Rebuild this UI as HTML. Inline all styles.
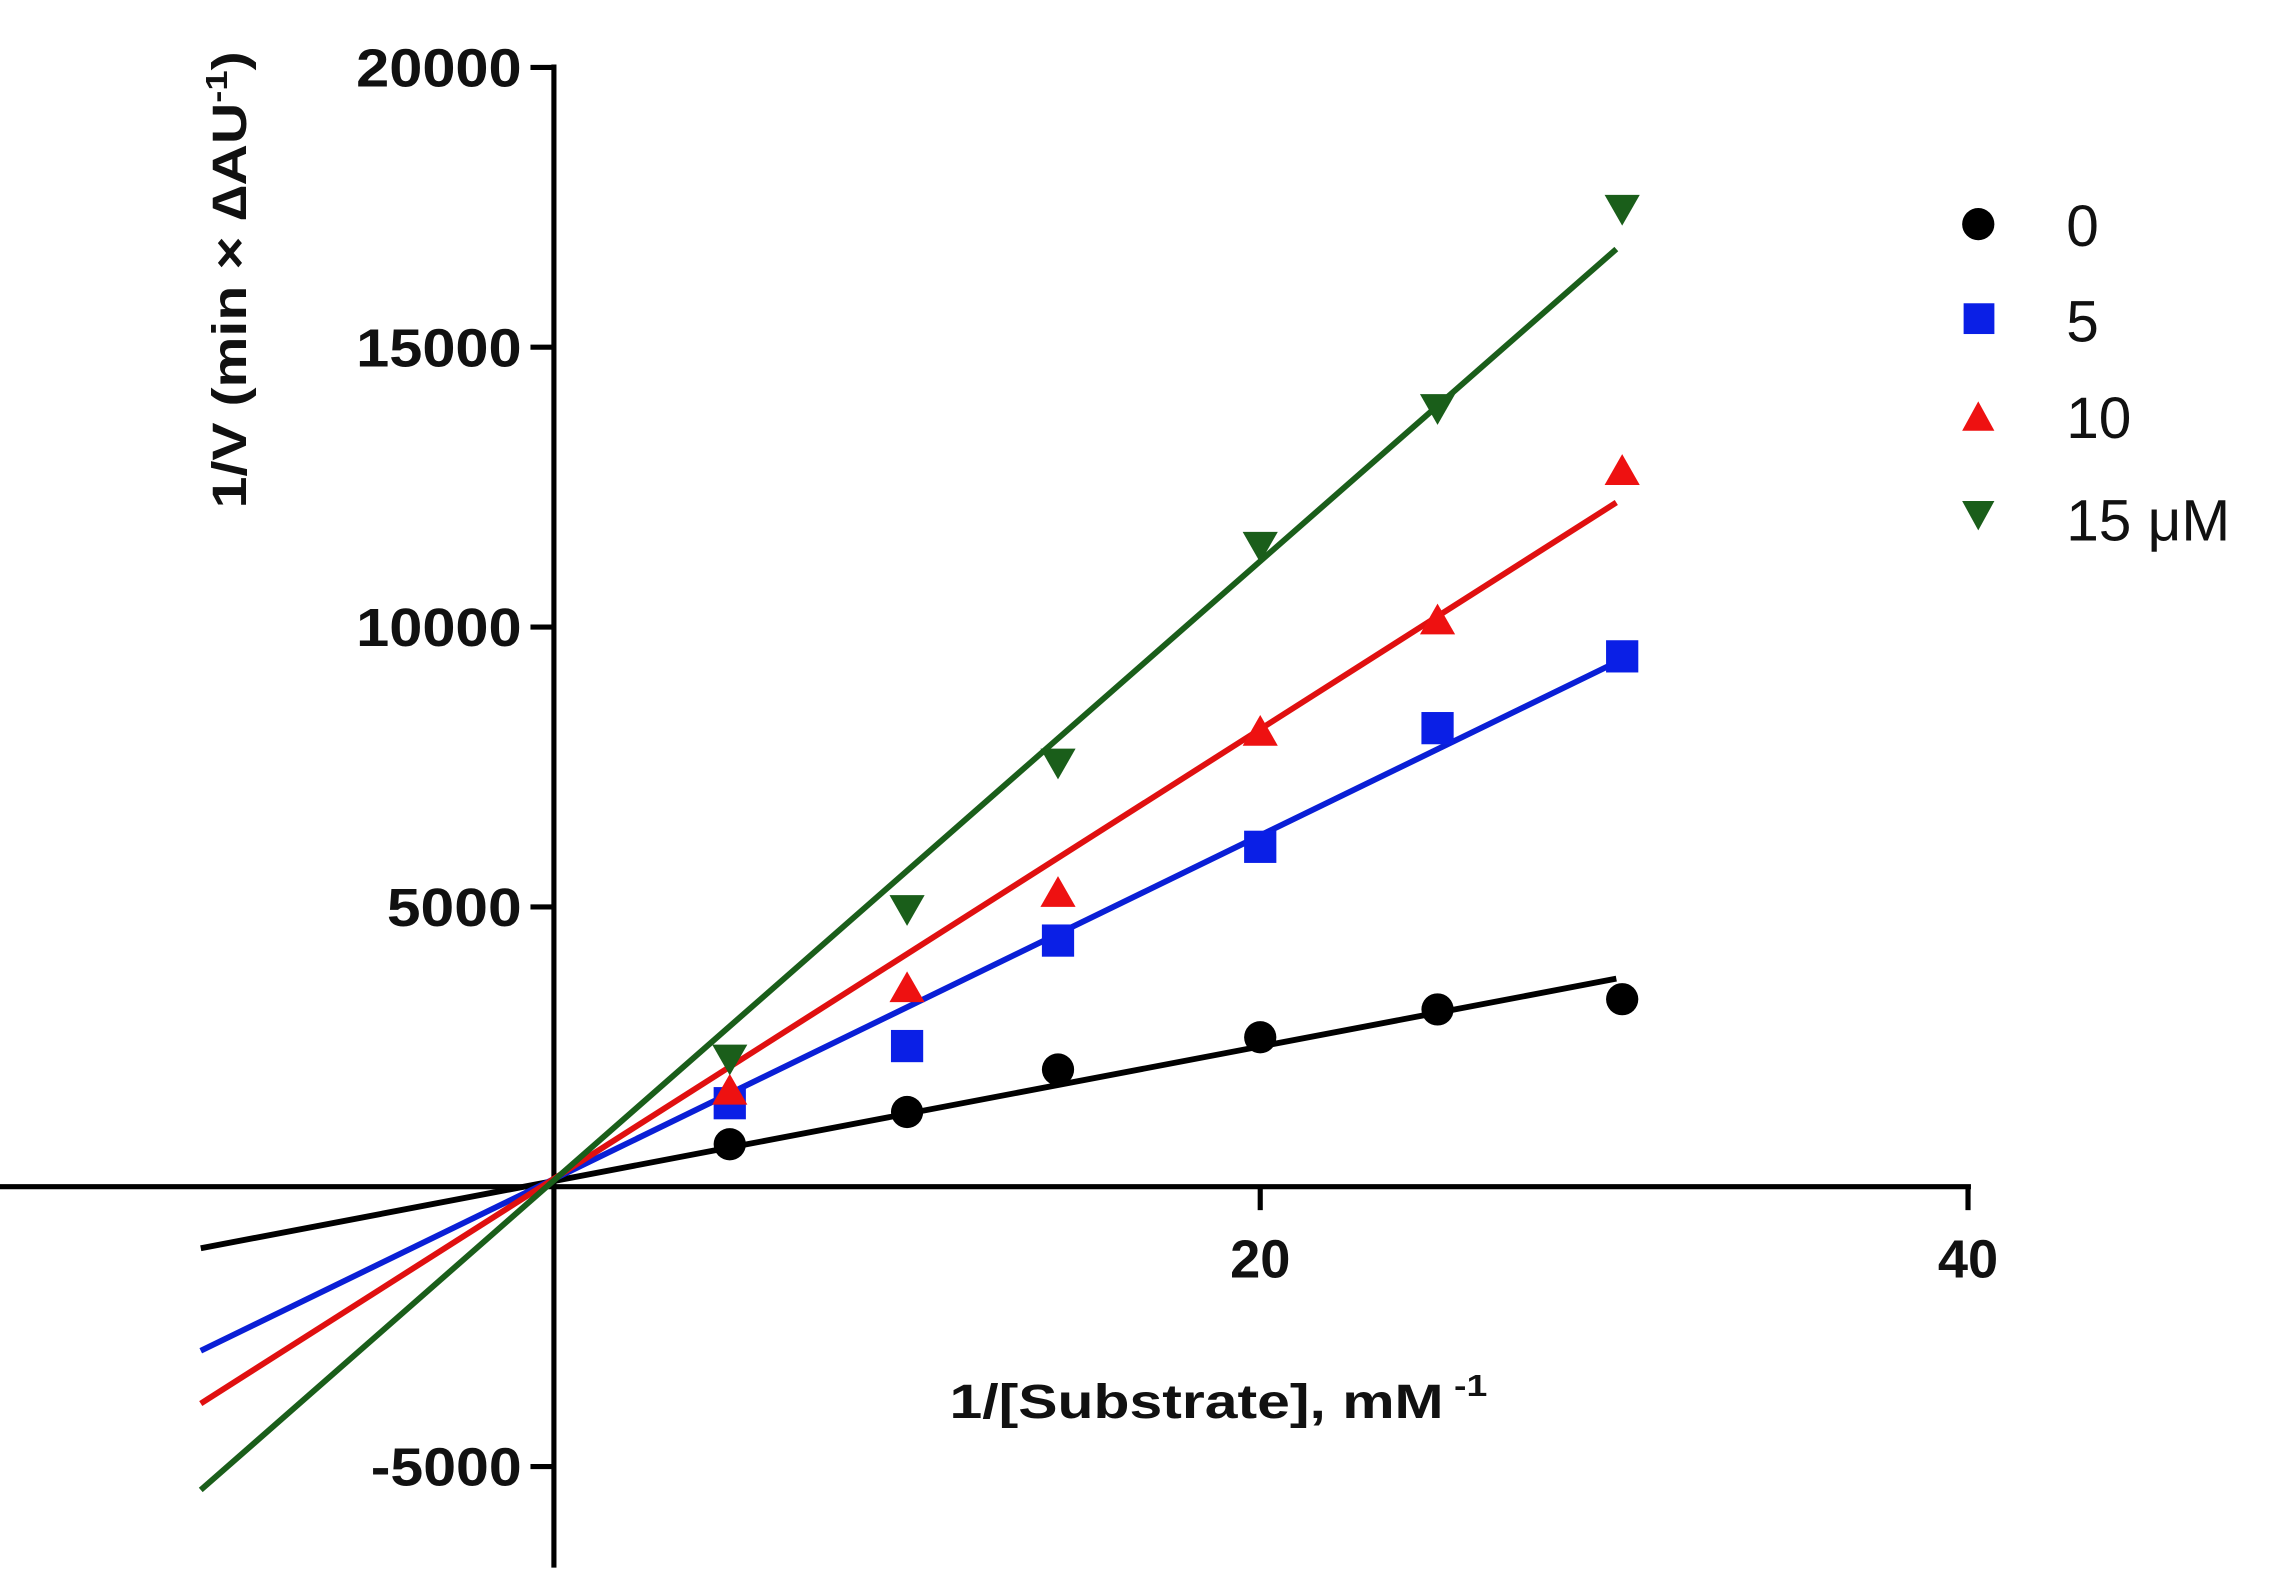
<!DOCTYPE html>
<html><head><meta charset="utf-8"><style>
html,body{margin:0;padding:0;background:#fff}
svg{display:block}
text{font-family:"Liberation Sans",Arial,sans-serif}
</style></head><body>
<svg width="2286" height="1594" viewBox="0 0 1560 1088" preserveAspectRatio="none" xmlns="http://www.w3.org/2000/svg">
<rect width="1560" height="1088" fill="#fff"/>
<g stroke="#000" stroke-width="3.5" fill="none">
<line x1="378" y1="44" x2="378" y2="1070"/>
<line x1="0" y1="810" x2="1345" y2="810"/>
<line x1="362" y1="46" x2="378" y2="46"/>
<line x1="362" y1="237" x2="378" y2="237"/>
<line x1="362" y1="428" x2="378" y2="428"/>
<line x1="362" y1="619" x2="378" y2="619"/>
<line x1="362" y1="1001" x2="378" y2="1001"/>
<line x1="860" y1="810" x2="860" y2="826"/>
<line x1="1343" y1="810" x2="1343" y2="826"/>
</g>
<g font-weight="bold" font-size="37" text-anchor="end" fill="#111">
<text x="356" y="59" textLength="113" lengthAdjust="spacingAndGlyphs">20000</text>
<text x="356" y="250" textLength="113" lengthAdjust="spacingAndGlyphs">15000</text>
<text x="356" y="441" textLength="113" lengthAdjust="spacingAndGlyphs">10000</text>
<text x="356" y="632" textLength="92" lengthAdjust="spacingAndGlyphs">5000</text>
<text x="356" y="1014" textLength="103" lengthAdjust="spacingAndGlyphs">-5000</text>
</g>
<g font-weight="bold" font-size="37" text-anchor="middle" fill="#111">
<text x="860" y="872">20</text>
<text x="1343" y="872">40</text>
</g>
<text x="168" y="191" font-size="33" font-weight="bold" text-anchor="middle" transform="rotate(-90 168 191)" fill="#111" textLength="312" lengthAdjust="spacingAndGlyphs">1/V (min × ∆AU<tspan font-size="21" dy="-13">-1</tspan><tspan dy="13">)</tspan></text>
<text x="648" y="968" font-size="33" font-weight="bold" fill="#111" textLength="367" lengthAdjust="spacingAndGlyphs">1/[Substrate], mM<tspan font-size="21" dy="-15"> -1</tspan></text>
<g stroke-width="4" fill="none">
<line x1="137" y1="852" x2="1103" y2="668" stroke="#000"/>
<line x1="137" y1="922" x2="1103" y2="452" stroke="#0a1fd6"/>
<line x1="137" y1="958" x2="1103" y2="343" stroke="#e01010"/>
<line x1="137" y1="1017" x2="1103" y2="170" stroke="#1a5e1a"/>
</g>
<g fill="#000">
<circle cx="498" cy="781" r="11"/><circle cx="619" cy="759" r="11"/><circle cx="722" cy="730" r="11"/>
<circle cx="860" cy="708" r="11"/><circle cx="981" cy="689" r="11"/><circle cx="1107" cy="682" r="11"/>
<circle cx="1350" cy="153" r="11"/>
</g>
<g fill="#0a1fe6">
<rect x="487" y="742" width="22" height="22"/><rect x="608" y="703" width="22" height="22"/><rect x="711" y="631" width="22" height="22"/>
<rect x="849" y="567" width="22" height="22"/><rect x="970" y="486" width="22" height="22"/><rect x="1096" y="437" width="22" height="22"/>
<rect x="1340" y="207" width="21" height="21"/>
</g>
<g fill="#ee1111">
<path d="M498 733 l12 21 h-24z"/><path d="M619 663 l12 21 h-24z"/><path d="M722 598 l12 21 h-24z"/>
<path d="M860 488 l12 21 h-24z"/><path d="M981 412 l12 21 h-24z"/><path d="M1107 310 l12 21 h-24z"/>
<path d="M1350 274 l11 20 h-22z"/>
</g>
<g fill="#1a5e1a">
<path d="M486 713 h24 l-12 21z"/><path d="M607 611 h24 l-12 21z"/><path d="M710 511 h24 l-12 21z"/>
<path d="M848 363 h24 l-12 21z"/><path d="M969 269 h24 l-12 21z"/><path d="M1095 133 h24 l-12 21z"/>
<path d="M1339 342 h22 l-11 20z"/>
</g>
<g font-size="40" fill="#111">
<text x="1410" y="168">0</text>
<text x="1410" y="233">5</text>
<text x="1410" y="299">10</text>
<text x="1410" y="369">15 μM</text>
</g>
</svg>
</body></html>
